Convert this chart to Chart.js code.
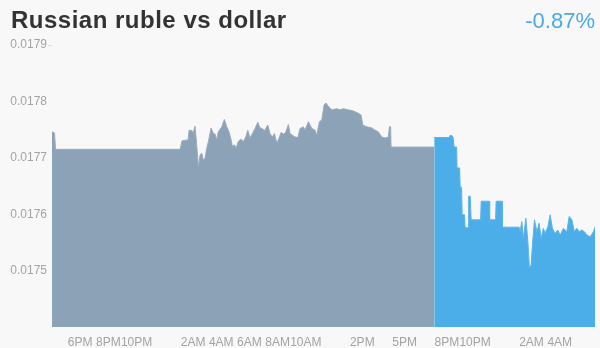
<!DOCTYPE html>
<html>
<head>
<meta charset="utf-8">
<script src="https://cdn.jsdelivr.net/npm/chart.js@4/dist/chart.umd.min.js"></script>
<style>
  html,body{margin:0;padding:0;background:#f8f8f8;}
  #wrap{position:relative;width:600px;height:348px;overflow:hidden;}
  #title{position:absolute;left:11px;top:8px;font:bold 24px "Liberation Sans",Arial,sans-serif;letter-spacing:0.5px;line-height:24px;color:#333;white-space:nowrap;}
  #change{position:absolute;right:5px;top:10px;font:22px "Liberation Sans",Arial,sans-serif;line-height:22px;color:#4aa9e6;white-space:nowrap;}
  canvas{position:absolute;left:0;top:0;}
</style>
</head>
<body>
<div id="wrap">
  <canvas id="myArea" width="600" height="348"></canvas>
  <div id="title">Russian ruble vs dollar</div>
  <div id="change">-0.87%</div>
</div>
<script>
// hours counted from midnight of the first day
const tickHours=[18,20,22,26,28,30,32,34,38,41,44,46,50,52];
const tickLabels=["6PM","8PM","10PM","2AM","4AM","6AM","8AM","10AM","2PM","5PM","8PM","10PM","2AM","4AM"];
const yTicks=[0.0175,0.0176,0.0177,0.0178,0.0179];

const prevHours=[16.00,16.18,16.25,25.01,25.08,25.22,25.65,25.72,25.93,26.00,26.14,26.26,26.38,26.50,26.62,26.73,26.85,26.97,27.09,27.28,27.44,27.56,27.68,27.79,28.04,28.22,28.39,28.55,28.70,28.79,28.93,29.05,29.21,29.38,29.57,29.74,29.88,30.04,30.21,30.40,30.59,30.75,30.91,31.06,31.15,31.30,31.46,31.62,31.77,31.94,32.10,32.24,32.40,32.57,32.76,32.88,33.04,33.23,33.43,33.59,33.82,33.94,34.18,34.42,34.65,34.77,34.96,35.13,35.29,35.43,35.60,35.84,36.19,36.43,36.66,37.01,37.37,37.72,37.91,38.04,38.32,38.67,38.91,39.14,39.38,39.62,39.85,39.92,40.01,40.04,43.10];
const prevValues=[0.017746,0.017744,0.017715,0.017715,0.017715,0.017730,0.017732,0.017749,0.017748,0.017743,0.017756,0.017723,0.017684,0.017705,0.017708,0.017696,0.017699,0.017717,0.017729,0.017753,0.017743,0.017742,0.017732,0.017746,0.017755,0.017768,0.017755,0.017746,0.017732,0.017720,0.017723,0.017717,0.017729,0.017733,0.017729,0.017737,0.017749,0.017735,0.017743,0.017752,0.017763,0.017753,0.017752,0.017748,0.017752,0.017758,0.017743,0.017737,0.017743,0.017726,0.017735,0.017745,0.017742,0.017745,0.017759,0.017743,0.017740,0.017737,0.017736,0.017752,0.017755,0.017749,0.017764,0.017752,0.017749,0.017740,0.017764,0.017767,0.017794,0.017797,0.017791,0.017785,0.017787,0.017785,0.017787,0.017785,0.017783,0.017779,0.017776,0.017758,0.017755,0.017753,0.017749,0.017746,0.017737,0.017735,0.017737,0.017755,0.017755,0.017719,0.017719];

const lastHours=[43.10,44.16,44.23,44.37,44.44,44.51,44.69,44.72,44.90,44.94,45.04,45.08,45.25,45.29,45.50,45.54,45.65,45.72,46.39,46.43,46.99,47.03,47.45,47.49,47.91,47.94,49.12,49.19,49.31,49.42,49.60,49.74,49.85,49.97,50.06,50.21,50.38,50.54,50.68,50.84,50.96,51.16,51.32,51.48,51.67,51.86,52.03,52.26,52.50,52.67,52.86,53.04,53.21,53.38,53.57,53.75,53.92,54.16,54.39,54.51];
const lastValues=[0.017736,0.017736,0.017740,0.017739,0.017736,0.017719,0.017719,0.017682,0.017682,0.017648,0.017648,0.017599,0.017599,0.017576,0.017576,0.017632,0.017632,0.017590,0.017590,0.017623,0.017623,0.017590,0.017590,0.017623,0.017623,0.017577,0.017577,0.017569,0.017587,0.017557,0.017593,0.017551,0.017504,0.017510,0.017545,0.017590,0.017569,0.017584,0.017557,0.017575,0.017566,0.017578,0.017599,0.017575,0.017566,0.017572,0.017563,0.017575,0.017569,0.017596,0.017590,0.017569,0.017575,0.017569,0.017572,0.017569,0.017563,0.017560,0.017569,0.017578];

const toPoints=(hs,vs)=>hs.map((h,i)=>({x:h,y:vs[i]}));

const ctx=document.getElementById("myArea");
let areaChart=new Chart(ctx,{
  type:'line',
  data:{
    datasets:[{
      data:toPoints(prevHours,prevValues),
      fill:'start',
      backgroundColor:"#8ca2b6",
      borderColor:"#98acbf",
      borderWidth:1,
      pointRadius:0,
      tension:0
    },{
      data:toPoints(lastHours,lastValues),
      fill:'start',
      backgroundColor:"#4baee8",
      borderColor:"#5ab4ea",
      borderWidth:1,
      pointRadius:0,
      tension:0
    }]
  },
  options:{
    responsive:false,
    animation:false,
    layout:{padding:{top:45,right:5,left:0,bottom:0}},
    plugins:{legend:{display:false},tooltip:{enabled:false}},
    scales:{
      x:{
        type:'linear',
        min:16,max:54.5,
        afterBuildTicks:s=>{s.ticks=tickHours.map(v=>({value:v}));},
        afterFit:s=>{s.height=21;},
        grid:{display:false,drawTicks:false},
        border:{display:false},
        ticks:{
          autoSkip:false,maxRotation:0,padding:8,
          color:"#a3a3a3",
          font:{family:"'Liberation Sans', Arial, sans-serif",size:12},
          callback:v=>{const i=tickHours.indexOf(v);return i<0?'':tickLabels[i];}
        }
      },
      y:{
        min:0.0174,max:0.0179,
        afterBuildTicks:s=>{s.ticks=yTicks.map(v=>({value:v}));},
        afterFit:s=>{s.width=52;},
        grid:{
          drawOnChartArea:false,
          tickLength:4,
          color:c=>c.tick&&c.tick.value===0.0179?"#dddddd":"rgba(0,0,0,0)"
        },
        border:{display:false},
        ticks:{
          padding:1,
          color:"#a3a3a3",
          font:{family:"'Liberation Sans', Arial, sans-serif",size:12},
          callback:v=>v.toFixed(4)
        }
      }
    }
  }
});
</script>
</body>
</html>
